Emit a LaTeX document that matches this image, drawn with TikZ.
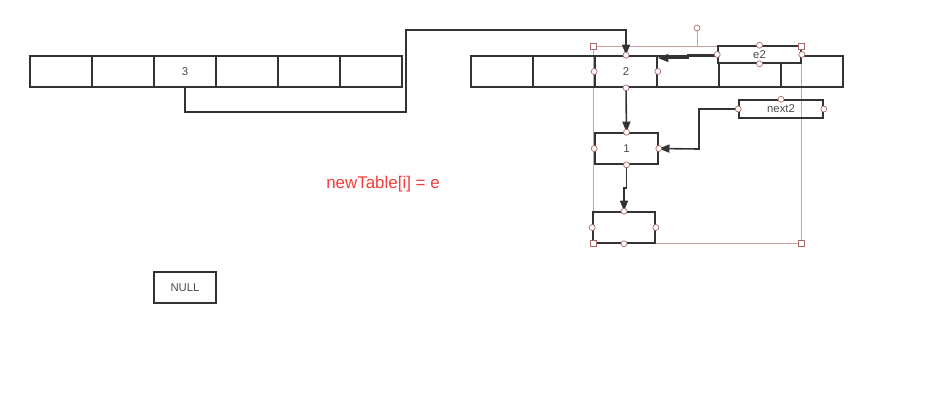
\documentclass[tikz,border=0pt]{standalone}
\usepackage{fontspec}
\setmainfont{Liberation Sans}
\usetikzlibrary{arrows.meta}
\definecolor{linegray}{HTML}{333333}
\definecolor{selpink}{HTML}{CFA2A2}
\definecolor{hdlred}{HTML}{A86A6A}
\definecolor{notered}{HTML}{F53B3B}

\begin{document}
\begin{tikzpicture}[x=0.75pt, y=-0.75pt,
    cell/.style={draw=linegray, line width=1.2pt, minimum width=46.5pt, minimum height=23.25pt, inner sep=0pt, font=\fontsize{8.5}{10}\selectfont, text=black!70},
    link/.style={draw=linegray, line width=1.2pt, -{Triangle[length=8pt,width=6pt]}},
    hdl/.style={circle, draw=hdlred, fill=white, line width=0.5pt, inner sep=0pt, minimum size=4.5pt},
    corner/.style={draw=hdlred, fill=white, line width=0.5pt, inner sep=0pt, minimum size=4.5pt}]

    \useasboundingbox (0,0) rectangle (930,412);

    % selection frame
    \draw[selpink, line width=0.6pt] (593,46) rectangle (801,243);
    \draw[selpink, line width=0.6pt] (697,46) -- (697,31);

    % old table
    \node[cell] (l1) at (61,71.5) {};
    \node[cell] (l2) at (123,71.5) {};
    \node[cell] (l3) at (185,71.5) {3};
    \node[cell] (l4) at (247,71.5) {};
    \node[cell] (l5) at (309,71.5) {};
    \node[cell] (l6) at (371,71.5) {};

    % new table
    \node[cell] (r1) at (502,71.5) {};
    \node[cell] (r2) at (564,71.5) {};
    \node[cell] (r3) at (626,71.5) {2};
    \node[cell] (r4) at (688,71.5) {};
    \node[cell] (r5) at (750,71.5) {};
    \node[cell] (r6) at (812,71.5) {};

    \node[cell, fill=white, minimum width=62.25pt, minimum height=12.75pt] (e2) at (759.5,54.5) {e2};
    \node[cell, minimum width=63pt, minimum height=13.5pt] (n2) at (781,109) {next2};
    \node[cell, minimum width=47.25pt] (n1) at (626.5,148.5) {1};
    \node[cell] (nb) at (624,227.5) {};
    \node[cell] (null) at (185,287.5) {NULL};

    \node[text=notered, font=\fontsize{12.7}{15}\selectfont] (note) at (383,184) {newTable[i] = e};

    \coordinate (b1) at (406,112);
    \coordinate (b2) at (406,30);
    \coordinate (b3) at (699,149);
    \coordinate (b4) at (688,58);
    \coordinate (b5) at (624,188);

    \draw[link] (l3.south) |- (b1) -- (b2) -| (r3.north);
    \draw[link] (e2.west) -| (b4) -- (r3.east |- b4);
    \draw[link] (n2.west) -| (b3) -- (n1.east);
    \draw[link] (r3.south) -- (n1.north);
    \draw[link] (n1.south) |- (b5) -- (nb.north);

    % handles
    \node[hdl] at (697,28) {};
    \node[corner] at (593,46) {};
    \node[corner] at (801,46) {};
    \node[corner] at (593,243) {};
    \node[corner] at (801,243) {};

    \node[hdl] at (r3.north) {};
    \node[hdl] at (r3.west) {};
    \node[hdl] at (r3.east) {};
    \node[hdl] at (r3.south) {};

    \node[hdl] at (e2.north) {};
    \node[hdl] at (e2.west) {};
    \node[hdl] at (e2.east) {};
    \node[hdl] at (e2.south) {};

    \node[hdl] at (n2.north) {};
    \node[hdl] at (n2.west) {};
    \node[hdl] at (n2.east) {};

    \node[hdl] at (n1.north) {};
    \node[hdl] at (n1.west) {};
    \node[hdl] at (n1.east) {};
    \node[hdl] at (n1.south) {};

    \node[hdl] at (nb.north) {};
    \node[hdl] at (nb.west) {};
    \node[hdl] at (nb.east) {};
    \node[hdl] at (nb.south) {};

\end{tikzpicture}
\end{document}
